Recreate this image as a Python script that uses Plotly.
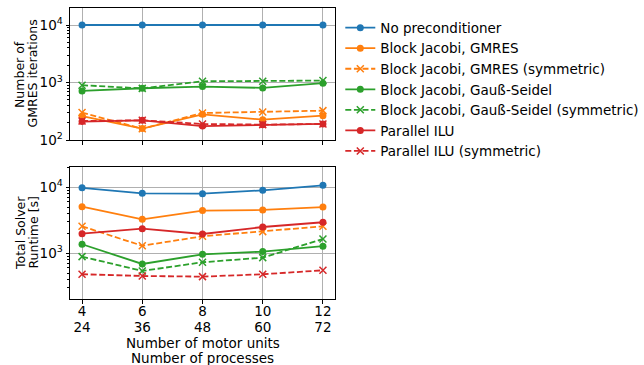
import plotly.graph_objects as go
import math

motor_units = [4, 6, 8, 10, 12]
processes = [24, 36, 48, 60, 72]

series_names = [
    "No preconditioner",
    "Block Jacobi, GMRES",
    "Block Jacobi, GMRES (symmetric)",
    "Block Jacobi, Gauß-Seidel",
    "Block Jacobi, Gauß-Seidel (symmetric)",
    "Parallel ILU",
    "Parallel ILU (symmetric)",
]

# GMRES iterations (top panel)
iter_no_precond = [10000, 10000, 10000, 10000, 10000]
iter_bj_gmres = [261, 158, 280, 226, 265]
iter_bj_gmres_sym = [300, 157, 295, 307, 324]
iter_bj_gs = [713, 795, 851, 805, 972]
iter_bj_gs_sym = [897, 790, 1050, 1050, 1080]
iter_pilu = [209, 220, 175, 185, 190]
iter_pilu_sym = [214, 220, 190, 185, 190]

# Total solver runtime [s] (bottom panel)
rt_no_precond = [9800, 8100, 8000, 9000, 10700]
rt_bj_gmres = [5080, 3270, 4430, 4530, 5010]
rt_bj_gmres_sym = [2560, 1300, 1810, 2130, 2560]
rt_bj_gs = [1370, 689, 966, 1060, 1280]
rt_bj_gs_sym = [890, 540, 731, 859, 1650]
rt_pilu = [1980, 2360, 1960, 2500, 2950]
rt_pilu_sym = [481, 453, 443, 481, 552]

iters = [iter_no_precond, iter_bj_gmres, iter_bj_gmres_sym, iter_bj_gs,
         iter_bj_gs_sym, iter_pilu, iter_pilu_sym]
runtimes = [rt_no_precond, rt_bj_gmres, rt_bj_gmres_sym, rt_bj_gs,
            rt_bj_gs_sym, rt_pilu, rt_pilu_sym]

x_title_lines = ["Number of motor units", "Number of processes"]
y1_title_lines = ["Number of", "GMRES iterations"]
y2_title_lines = ["Total Solver", "Runtime [s]"]

colors = ["#1f77b4", "#ff7f0e", "#ff7f0e", "#2ca02c", "#2ca02c", "#d62728", "#d62728"]
symmetric = [False, False, True, False, True, False, True]

FONT = "DejaVu Sans"
FS = 13.5
FS_Y = 12.5

fig = go.Figure()

def add(xa, ya, vals, i, showlegend):
    sym = symmetric[i]
    fig.add_trace(go.Scatter(
        x=motor_units, y=vals, xaxis=xa, yaxis=ya,
        name=series_names[i], showlegend=showlegend,
        mode="lines+markers",
        line=dict(color=colors[i], width=1.8, dash="6px,2.6px" if sym else "solid"),
        marker=dict(
            symbol="x-thin" if sym else "circle",
            size=7,
            color=colors[i],
            line=dict(color=colors[i], width=1.5 if sym else 0),
        ),
    ))

for i in range(len(series_names)):
    add("x", "y", iters[i], i, True)
for i in range(len(series_names)):
    add("x2", "y2", runtimes[i], i, False)

# invisible carrier trace so the secondary (process-count) x axis is drawn
fig.add_trace(go.Scatter(x=motor_units, y=rt_no_precond, xaxis="x3", yaxis="y2",
                         mode="markers", marker=dict(opacity=0), showlegend=False,
                         hoverinfo="skip"))

W, H = 644, 365
L, R, T, B = 70, 335, 8, 299
pw, ph = R - L, B - T
top_dom = [(B - 140) / ph, 1.0]
bot_dom = [0.0, (B - 167) / ph]

def px_x(p):
    return (p - L) / pw

def px_y(p):
    return (B - p) / ph

common_x = dict(
    range=[3.6, 12.4], tickvals=motor_units, ticks="outside", ticklen=3.5,
    tickcolor="black", showgrid=True, gridcolor="#b0b0b0", gridwidth=0.8,
    showline=True, mirror=True, linecolor="black", linewidth=1, zeroline=False,
)
minor = dict(ticks="outside", ticklen=2, tickcolor="black", dtick="D1", showgrid=False)
common_y = dict(
    type="log", ticks="outside", ticklen=3.5, tickcolor="black",
    showgrid=True, gridcolor="#b0b0b0", gridwidth=0.8,
    showline=True, mirror=True, linecolor="black", linewidth=1, zeroline=False,
    tickvals=[100, 1000, 10000],
    ticktext=["10<sup>2</sup>", "10<sup>3</sup>", "10<sup>4</sup>"],
    minor=minor,
)

annotations = []
for txt, py in zip(x_title_lines, [342.5, 357.5]):
    annotations.append(dict(text=txt, xref="paper", yref="paper", x=0.5, y=px_y(py),
                            xanchor="center", yanchor="middle", showarrow=False,
                            borderpad=0, font=dict(family=FONT, size=FS)))
for lines, cy in [(y1_title_lines, (8 + 140) / 2), (y2_title_lines, (167 + 299) / 2)]:
    for txt, pxv in zip(lines, [20, 32.5]):
        annotations.append(dict(text=txt, xref="paper", yref="paper", x=px_x(pxv), y=px_y(cy),
                                xanchor="center", yanchor="middle", showarrow=False,
                                borderpad=0, textangle=-90, font=dict(family=FONT, size=FS_Y)))

fig.update_layout(
    width=W, height=H,
    margin=dict(l=L, r=W - R, t=T, b=H - B, autoexpand=False),
    paper_bgcolor="white", plot_bgcolor="white",
    font=dict(family=FONT, size=FS, color="black"),
    xaxis=dict(**common_x, anchor="y", showticklabels=False, domain=[0, 1]),
    yaxis=dict(**common_y, anchor="x", domain=top_dom, range=[2, 4.296]),
    xaxis2=dict(**common_x, anchor="y2", domain=[0, 1], ticktext=[str(m) for m in motor_units],
                ticklabelstandoff=-4),
    xaxis3=dict(range=[3.6, 12.4], tickvals=motor_units, ticktext=[str(p) for p in processes],
                overlaying="x2", anchor="y2", side="bottom", domain=[0, 1],
                showgrid=False, showline=False, zeroline=False, ticks="",
                ticklabelstandoff=18),
    yaxis2=dict(**common_y, anchor="x2", domain=bot_dom, range=[math.log10(203), 4.307]),
    legend=dict(x=1.02, y=0.985, xanchor="left", yanchor="top",
                bgcolor="rgba(0,0,0,0)", borderwidth=0, tracegroupgap=0,
                font=dict(family=FONT, size=FS), itemwidth=30),
    annotations=annotations,
)

fig.write_html("out.html")
